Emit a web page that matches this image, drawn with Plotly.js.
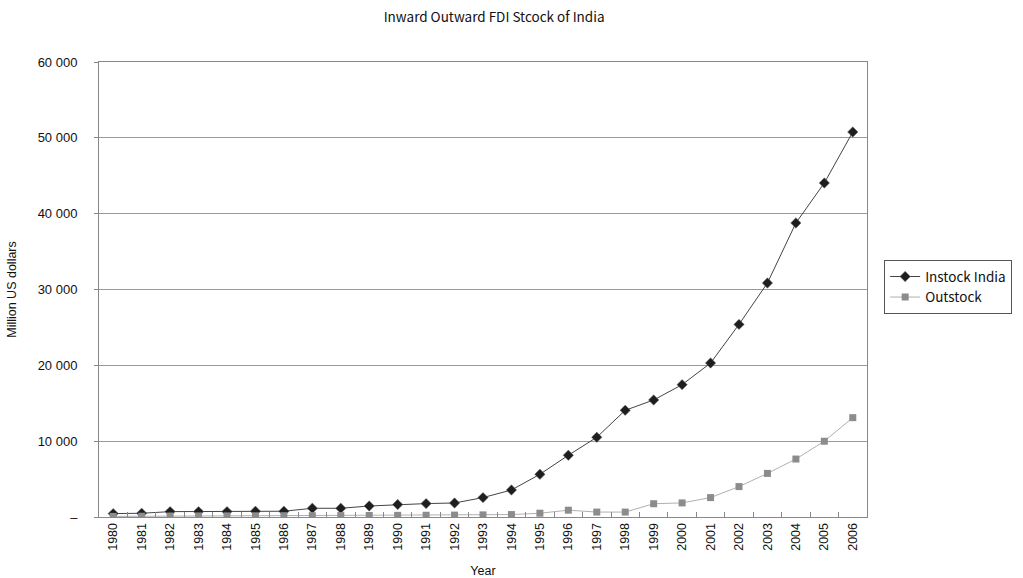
<!DOCTYPE html>
<html>
<head>
<meta charset="utf-8">
<script src="https://cdn.plot.ly/plotly-3.0.1.min.js"></script>
<style>html,body{margin:0;padding:0;background:#fff;}#chart{width:1023px;height:578px;}</style>
</head>
<body>
<div id="chart"></div>
<script>
const years = ["1980","1981","1982","1983","1984","1985","1986","1987","1988","1989","1990","1991","1992","1993","1994","1995","1996","1997","1998","1999","2000","2001","2002","2003","2004","2005","2006"];
const instock = [450, 490, 710, 710, 710, 760, 760, 1150, 1150, 1450, 1640, 1770, 1850, 2560, 3560, 5630, 8140, 10510, 14070, 15430, 17450, 20300, 25400, 30860, 38770, 44050, 50770];
const outstock = [80, 100, 130, 140, 150, 160, 170, 180, 190, 200, 220, 230, 250, 280, 320, 500, 900, 650, 650, 1750, 1860, 2560, 4010, 5750, 7640, 9990, 13100];
const yTickVals = [0, 10000, 20000, 30000, 40000, 50000, 60000];
const yTickText = ["–", "10 000", "20 000", "30 000", "40 000", "50 000", "60 000"];

const traces = [
  {
    x: years, y: instock, name: "Instock India", type: "scatter", mode: "lines+markers",
    line: {color: "#444444", width: 1},
    marker: {symbol: "diamond", size: 8, color: "#1e1e1e", line: {color: "#777777", width: 0.5}}
  },
  {
    x: years, y: outstock, name: "Outstock", type: "scatter", mode: "lines+markers",
    line: {color: "#b0b0b0", width: 1},
    marker: {symbol: "square", size: 7, color: "#8c8c8c"}
  }
];

const layout = {
  width: 1023, height: 578,
  paper_bgcolor: "#ffffff", plot_bgcolor: "#ffffff",
  margin: {l: 99, r: 155, t: 62, b: 61},
  font: {family: "Liberation Sans, Arial, sans-serif", size: 12, color: "#111111"},
  title: {text: "Inward Outward FDI Stcock of India", x: 0.483, xanchor: "center", y: 0.97, yanchor: "middle",
          font: {family: "Noto Sans CJK JP, sans-serif", size: 13.5, color: "#111111"}},
  xaxis: {
    type: "category",
    range: [-0.5, 26.5],
    tickangle: -90,
    ticks: "inside", ticklen: 5, tickcolor: "#888888", tickson: "boundaries",
    showline: true, linecolor: "#888888", linewidth: 1, mirror: true,
    showgrid: false,
    tickfont: {size: 12.5, color: "#111111"},
    title: {text: "Year", font: {size: 12.5}, standoff: 20}
  },
  yaxis: {
    range: [0, 60000],
    tickvals: yTickVals, ticktext: yTickText,
    ticks: "outside", ticklen: 4, tickcolor: "#888888",
    ticklabelstandoff: 14,
    showline: true, linecolor: "#888888", linewidth: 1, mirror: true,
    showgrid: true, gridcolor: "#999999", gridwidth: 1,
    zeroline: false,
    tickfont: {size: 13, color: "#111111"},
    title: {text: "Million US dollars", font: {size: 12.5}, standoff: 18}
  },
  legend: {
    x: 1.021, xanchor: "left", y: 0.505, yanchor: "middle",
    bordercolor: "#555555", borderwidth: 1,
    font: {family: "Noto Sans CJK JP, sans-serif", size: 13.5, color: "#111111"},
    tracegroupgap: 0
  },
  showlegend: true
};

Plotly.newPlot("chart", traces, layout, {displayModeBar: false, staticPlot: true});
</script>
</body>
</html>
